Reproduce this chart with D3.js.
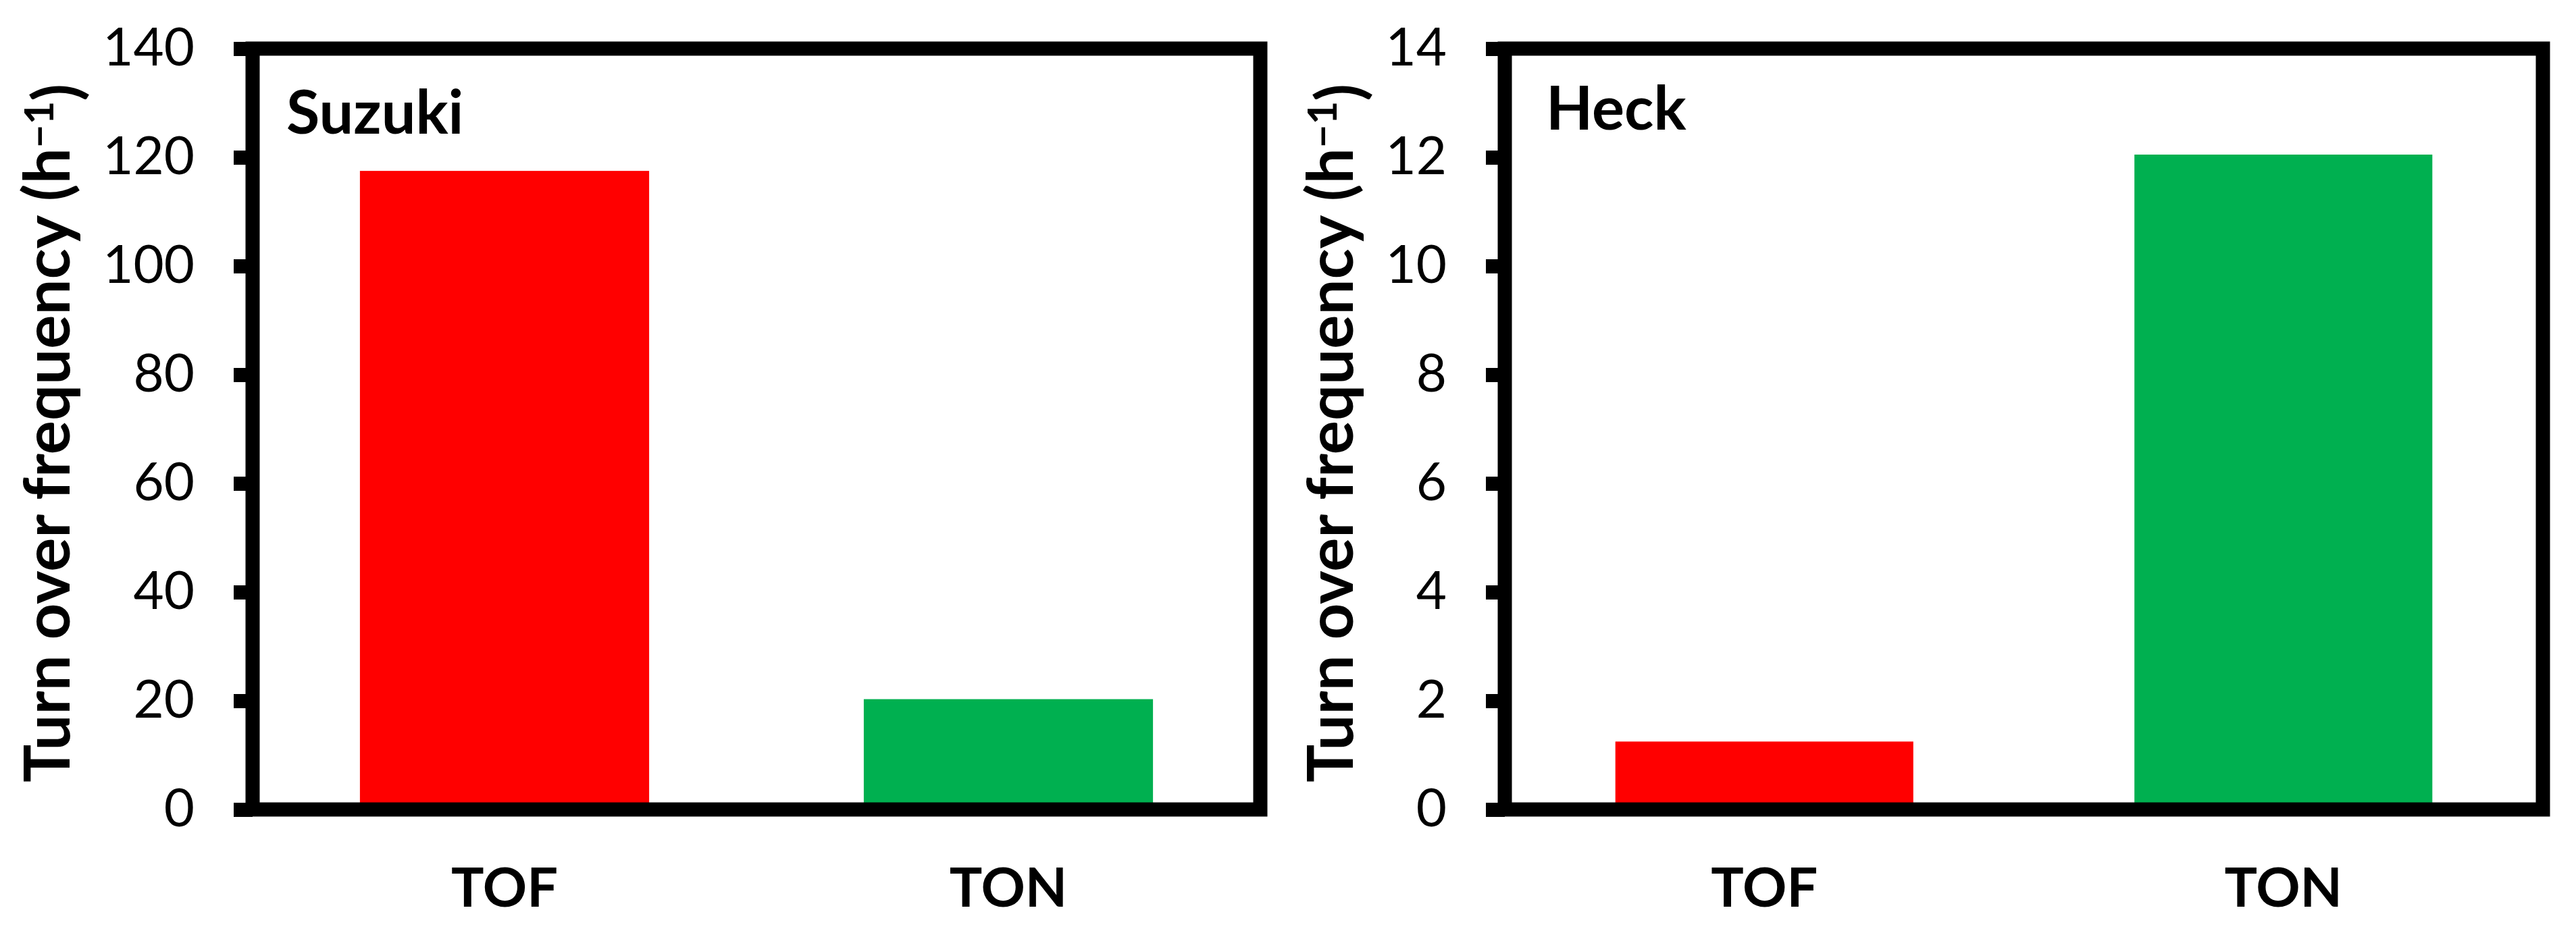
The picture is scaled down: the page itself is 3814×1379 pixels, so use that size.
<!DOCTYPE html>
<html>
<head>
<meta charset="utf-8">
<script src="https://cdn.jsdelivr.net/npm/d3@7"></script>
<style>
  body { margin: 0; background: #fff; }
  svg { display: block; }
</style>
</head>
<body>
<script>
const categories = ['TOF', 'TON']
const panelNames = ['Suzuki', 'Heck']
const suzukiValues = [117.5, 20.3]
const heckValues = [1.25, 12.05]
const suzukiTicks = [0, 20, 40, 60, 80, 100, 120, 140]
const heckTicks = [0, 2, 4, 6, 8, 10, 12, 14]
const barColors = ['#FF0000', '#00B050']
const yTitle = 'Turn over frequency (h'

const width = 3814
const height = 1379
const lineWidth = 21

const d3 = window.d3

const svg = d3.select('body')
  .append('svg')
  .attr('width', width)
  .attr('height', height)

// one Excel-style framed bar panel
function drawPanel (opts) {
  const yScale = d3.scaleLinear()
    .domain([0, d3.max(opts.ticks)])
    .range([1199, 72])

  const xScale = d3.scaleBand()
    .domain(categories)
    .range([opts.left, opts.right])
    .paddingInner(0.426)
    .paddingOuter(0.213)

  const g = svg.append('g')

  g.selectAll('.bar')
    .data(opts.values)
    .enter()
    .append('rect')
    .attr('class', 'bar')
    .attr('x', (d, i) => xScale(categories[i]))
    .attr('width', xScale.bandwidth())
    .attr('y', (d) => yScale(d))
    .attr('height', (d) => yScale(0) - yScale(d))
    .attr('fill', (d, i) => barColors[i])

  g.append('rect')
    .attr('x', opts.left)
    .attr('y', yScale.range()[1])
    .attr('width', opts.right - opts.left)
    .attr('height', yScale.range()[0] - yScale.range()[1])
    .attr('fill', 'none')
    .attr('stroke', '#000')
    .attr('stroke-width', lineWidth)

  const yAxis = g.append('g')
    .attr('transform', `translate(${opts.left},0)`)
    .call(d3.axisLeft(yScale).tickValues(opts.ticks).tickSize(28).tickSizeOuter(0).tickPadding(58))
  yAxis.select('.domain').remove()
  yAxis.selectAll('line').attr('stroke', '#000').attr('stroke-width', lineWidth)
  yAxis.selectAll('text')
    .attr('fill', '#000')
    .style('font-family', 'Lato, "Open Sans", sans-serif')
    .style('font-size', '78px')

  const xAxis = g.append('g')
    .attr('transform', `translate(0,${yScale(0)})`)
    .call(d3.axisBottom(xScale).tickSize(0))
  xAxis.select('.domain').remove()
  xAxis.selectAll('text')
    .attr('y', 144)
    .attr('dy', 0)
    .attr('fill', '#000')
    .style('font-family', 'Lato, "Open Sans", sans-serif')
    .style('font-weight', 'bold')
    .style('font-size', '81px')

  g.append('text')
    .attr('x', opts.nameX)
    .attr('y', opts.nameY)
    .style('font-family', 'Lato, "Open Sans", sans-serif')
    .style('font-weight', 'bold')
    .style('font-size', '90px')
    .text(opts.name)

  const title = g.append('text')
    .attr('transform', `translate(${opts.titleX}, ${(yScale(0) + yScale.range()[1]) / 2 + 6}) rotate(-90)`)
    .style('text-anchor', 'middle')
    .style('font-family', 'Lato, "Open Sans", sans-serif')
    .style('font-weight', 'bold')
    .style('font-size', '94px')
  title.append('tspan').text(yTitle)
  title.append('tspan')
    .attr('dy', '-0.4em')
    .style('font-size', '60px')
    .text('\u22121')
  title.append('tspan')
    .attr('dy', '0.4em')
    .text(')')
}

drawPanel({
  left: 374,
  right: 1866,
  values: suzukiValues,
  ticks: suzukiTicks,
  name: panelNames[0],
  nameX: 424,
  nameY: 198,
  titleX: 103
})

drawPanel({
  left: 2228,
  right: 3765,
  values: heckValues,
  ticks: heckTicks,
  name: panelNames[1],
  nameX: 2289,
  nameY: 192,
  titleX: 2003
})
</script>
</body>
</html>
